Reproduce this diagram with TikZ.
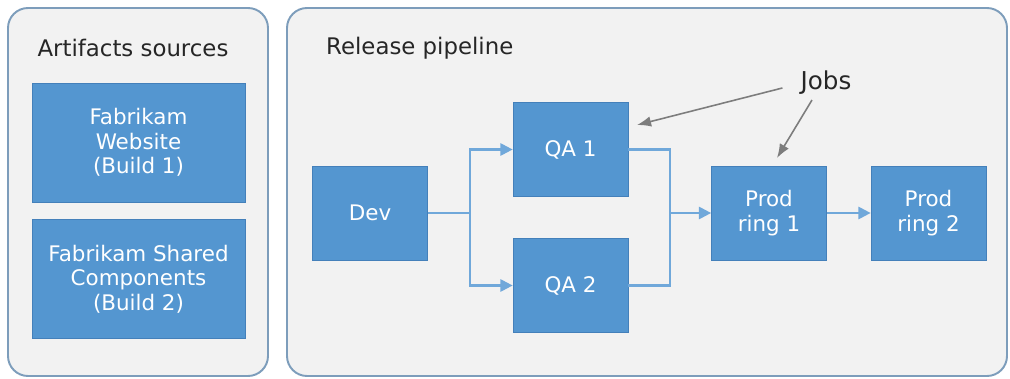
\documentclass[tikz,border=0pt]{standalone}
\usepackage{fontspec}
\setmainfont{DejaVu Sans}
\usetikzlibrary{arrows.meta}
\definecolor{panelgray}{RGB}{242,242,242}
\definecolor{panelline}{RGB}{125,157,187}
\definecolor{jobblue}{RGB}{84,150,208}
\definecolor{jobline}{RGB}{68,128,186}
\definecolor{flowblue}{RGB}{112,168,218}
\definecolor{notegray}{RGB}{125,125,125}
\newcommand{\boxfont}{\fontsize{12.2}{14}\selectfont}

\tikzset{
  panel/.style={draw=panelline, fill=panelgray, line width=1.1pt, rounded corners=0.4cm},
  job/.style={draw=jobline, fill=jobblue, text=white, align=center, inner sep=0pt,
    minimum width=2.3cm, minimum height=1.88cm, font=\boxfont},
  artifact/.style={job, minimum width=4.26cm, minimum height=2.38cm},
  title/.style={font=\fontsize{13}{15}\selectfont, text=black!85},
  line/.style={draw=flowblue, line width=1.2pt},
  flow/.style={line, -{Triangle[length=7pt,width=7pt]}},
  note/.style={draw=notegray, line width=0.9pt, -{Latex[length=8pt,width=6pt]}}
}

\begin{document}
\begin{tikzpicture}
\useasboundingbox (0,0) rectangle (20.2,7.56);
\draw[panel] (0.16,0.04) rectangle (5.36,7.40); % artifacts
\draw[panel] (5.74,0.04) rectangle (20.14,7.40); % pipeline
\node[title] (srctitle) at (2.66,6.60) {Artifacts sources};
\node[title, anchor=west] (reltitle) at (6.40,6.60) {Release pipeline};
\node[artifact] (web) at (2.77,4.71) {Fabrikam\\Website\\(Build 1)};
\node[artifact] (shared) at (2.77,1.98) {Fabrikam Shared\\Components\\(Build 2)};
\node[job] (dev) at (7.40,3.30) {Dev};
\node[job] (qa1) at (11.41,4.57) {QA 1};
\node[job] (qa2) at (11.41,1.85) {QA 2};
\node[job] (prod1) at (15.38,3.30) {Prod\\ring 1};
\node[job] (prod2) at (18.57,3.30) {Prod\\ring 2};
\node[title, font=\fontsize{14}{16}\selectfont] (jobs) at (16.52,5.90) {Jobs};
\coordinate (split) at (9.40,3.30);
\coordinate (merge) at (13.40,3.30);
\coordinate (qa1tip) at (12.74,5.06);
\coordinate (prodtip) at (15.54,4.40);
\draw[line] (dev) -- (split);
\draw[flow] (split) |- (qa1);
\draw[flow] (split) |- (qa2);
\draw[line] (qa1) -| (merge);
\draw[line] (qa2) -| (merge);
\draw[flow] (merge) -- (prod1);
\draw[flow] (prod1) -- (prod2);
\draw[note] ([shift={(-0.24,-0.1)}]jobs.west) -- (qa1tip);
\draw[note] ([shift={(-0.28,0.02)}]jobs.south) -- (prodtip);
\end{tikzpicture}
\end{document}
